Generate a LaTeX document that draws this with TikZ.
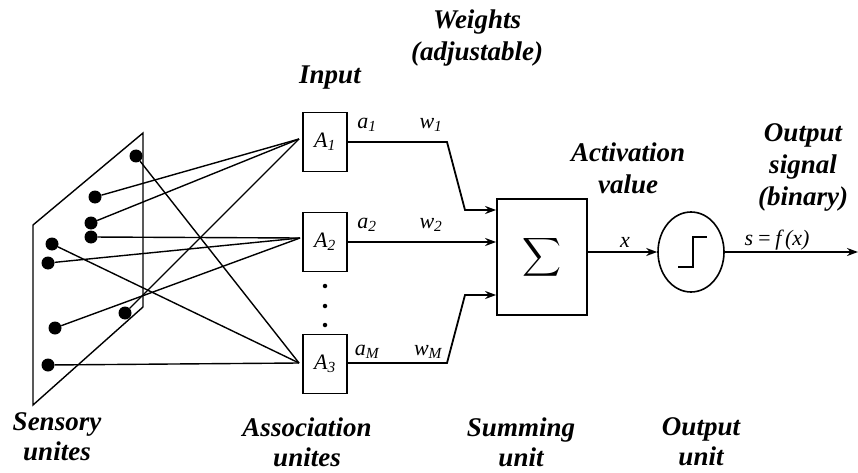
\documentclass[tikz,border=0pt]{standalone}
\usepackage{fontspec}
\setmainfont{Liberation Serif}
\usetikzlibrary{arrows.meta,shapes.geometric}
\begin{document}
\begin{tikzpicture}[x=1pt,y=-1pt,
  dot/.style={circle,fill=black,inner sep=0pt,minimum size=13pt},
  abox/.style={draw,line width=1.6pt,minimum width=44pt,minimum height=59pt,inner sep=0pt,
    font=\fontsize{22}{22}\selectfont\itshape},
  wire/.style={line width=1.8pt},
  link/.style={line width=1.4pt},
  lbl/.style={font=\fontsize{27}{32}\selectfont\bfseries\itshape,align=center,inner sep=0pt},
  unitcaption/.style={font=\fontsize{27}{30}\selectfont\bfseries\itshape,align=center,inner sep=0pt},
  sym/.style={font=\fontsize{22}{22}\selectfont\itshape,inner sep=0pt},
  tip/.style={-{Stealth[length=11pt,width=8pt]}}
]
\useasboundingbox (0,0) rectangle (858,473);

% sensory plane
\draw[link] (33,225) -- (143,133) -- (143,307) -- (33,405) -- cycle;

% sensory points
\node[dot] (s1) at (136,156) {};
\node[dot] (s2) at (95,197) {};
\node[dot] (s3) at (91,223) {};
\node[dot] (s4) at (91,237) {};
\node[dot] (s5) at (52,244) {};
\node[dot] (s6) at (48,263) {};
\node[dot] (s7) at (125,313) {};
\node[dot] (s8) at (55,328) {};
\node[dot] (s9) at (48,365) {};

% association units
\node[abox] (A1) at (325,142) {A\textsubscript{1}};
\node[abox] (A2) at (325,242) {A\textsubscript{2}};
\node[abox] (A3) at (325,364) {A\textsubscript{3}};
\foreach \y [count=\i] in {286,306,325}
  \node[circle,fill=black,inner sep=0pt,minimum size=4.5pt] (d\i) at (325,\y) {};

\coordinate (A1in) at (299,139);
\coordinate (A2in) at (300,238);
\coordinate (A3in) at (299,363);

% random connections from the plane
\draw[link] (s2) -- (A1in);
\draw[link] (s3) -- (A1in);
\draw[link] (s7) -- (A1in);
\draw[link] (s4) -- (A2in);
\draw[link] (s6) -- (A2in);
\draw[link] (s8) -- (A2in);
\draw[link] (s1) -- (A3in);
\draw[link] (s5) -- (A3in);
\draw[link] (s9) -- (A3in);

% summing unit
\node[draw,line width=1.8pt,minimum width=90pt,minimum height=116pt,inner sep=0pt] (S) at (542,257) {};
\node[inner sep=0pt,scale=2.7] (sig) at (S.center) {$\displaystyle\sum$};

% weighted inputs
\draw[wire,tip] (A1.east) -- (447,142) -- (465,210) -- ([yshift=47pt]S.west);
\draw[wire,tip] (A2.east) -- (S.west |- A2.east);
\draw[wire,tip] ([yshift=1pt]A3.east) -- (447,363) -- (465,295) -- ([yshift=-38pt]S.west);

% output unit with step function
\node[draw,ellipse,line width=1.6pt,minimum width=66pt,minimum height=80pt,inner sep=0pt] (F) at (691,252) {};
\draw[line width=1.6pt] (678,267) -- (693,267) -- (693,237) -- (707,237);

\draw[wire,tip] (S.east |- F.west) -- (F.west);
\coordinate (out) at (858,252);
\draw[wire,tip] (F.east) -- (out);

% signal labels
\node[sym] (a1) at (367,125) {a\textsubscript{1}};
\node[sym] (w1) at (431,125) {w\textsubscript{1}};
\node[sym] (a2) at (367,225) {a\textsubscript{2}};
\node[sym] (w2) at (431,225) {w\textsubscript{2}};
\node[sym] (aM) at (367,352) {a\textsubscript{M}};
\node[sym] (wM) at (428,352) {w\textsubscript{M}};
\node[sym] (xl) at (625,242) {x};
\node[sym] (sl) at (777,240) {s\,=\,f\,(x)};

% captions
\node[lbl] (wt) at (477,38) {Weights\\(adjustable)};
\node[lbl] (in) at (330,78) {Input};
\node[lbl] (act) at (628,168) {Activation\\value};
\node[lbl] (osig) at (803,167) {Output\\signal\\(binary)};
\node[unitcaption] (c1) at (57,437) {Sensory\\unites};
\node[unitcaption] (c2) at (307,442) {Association\\unites};
\node[unitcaption] (c3) at (521,442) {Summing\\unit};
\node[unitcaption] (c4) at (701,442) {Output\\unit};
\end{tikzpicture}
\end{document}
